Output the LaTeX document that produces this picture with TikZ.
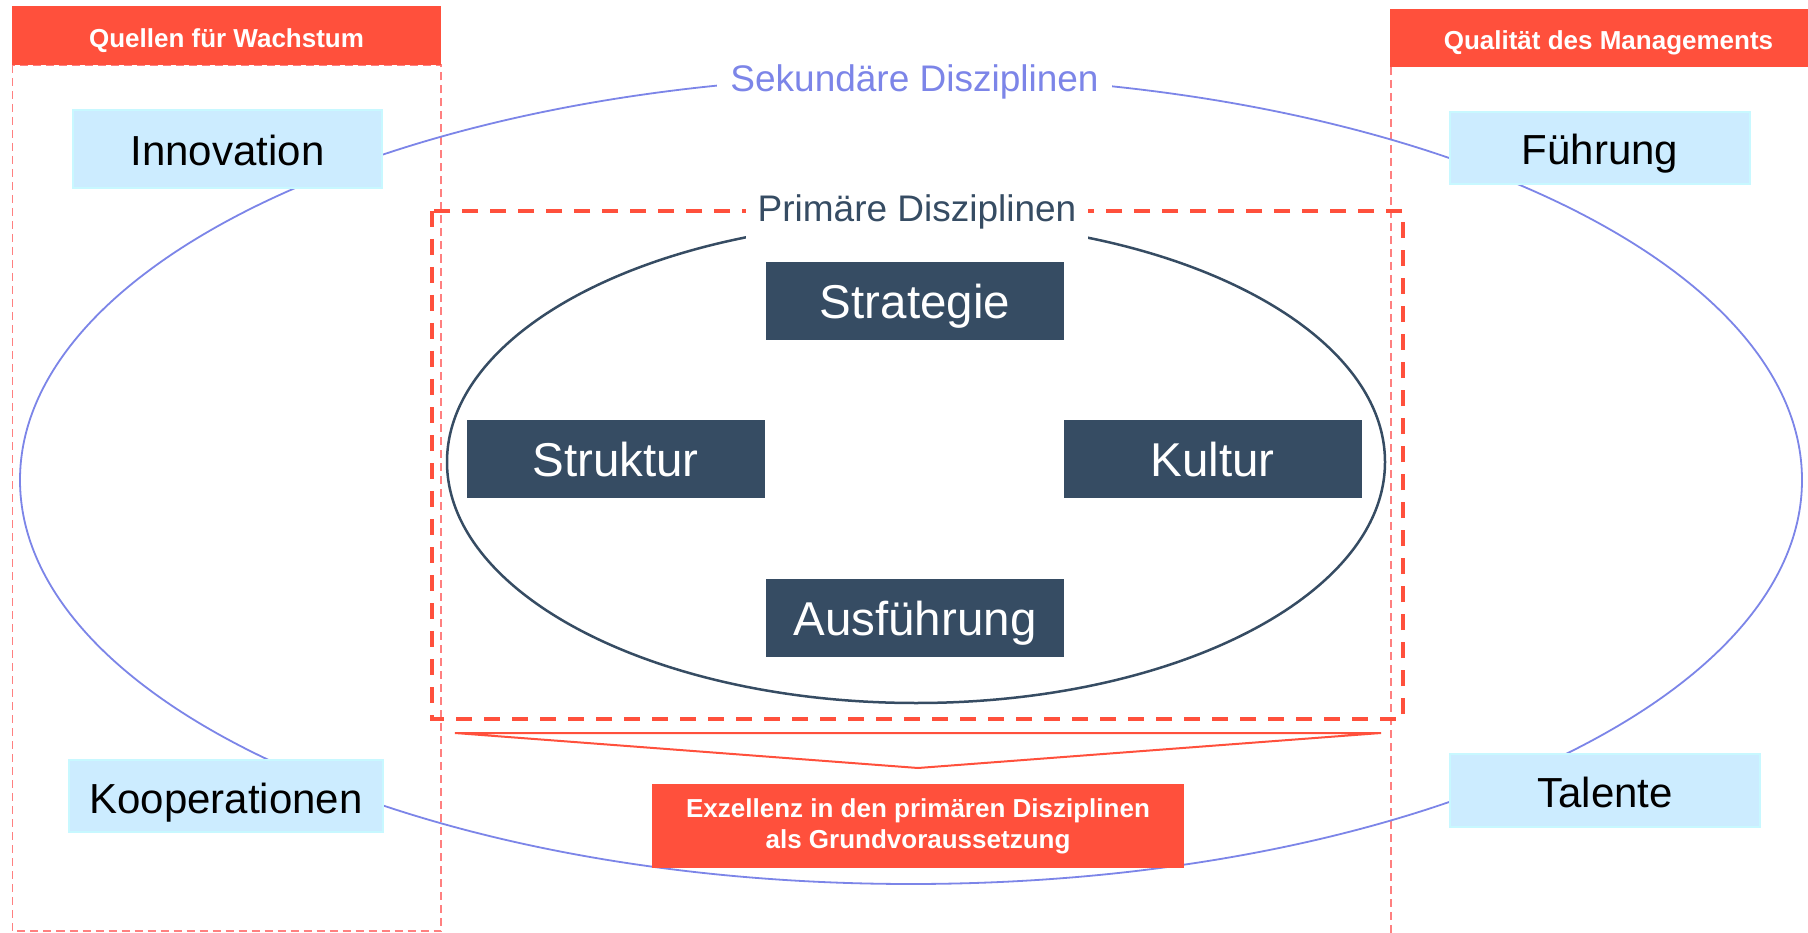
\documentclass[tikz,border=0pt]{standalone}
\usepackage{fontspec}
\setmainfont{Liberation Sans}
\definecolor{redc}{RGB}{255,80,60}
\definecolor{lred}{RGB}{255,128,128}
\definecolor{lblue}{RGB}{204,236,255}
\definecolor{lcyan}{RGB}{200,248,255}
\definecolor{navy}{RGB}{54,76,99}
\definecolor{peri}{RGB}{124,133,232}
\begin{document}
\begin{tikzpicture}[x=1pt,y=-1pt,
  lightbox/.style={fill=lblue,draw=lcyan,line width=1.5pt,inner sep=0pt,
    font=\fontsize{42pt}{50pt}\selectfont,text height=34pt,text depth=0pt},
  darkbox/.style={fill=navy,text=white,inner sep=0pt,minimum width=298pt,minimum height=78pt,
    font=\fontsize{47.5pt}{57pt}\selectfont,text height=35pt,text depth=0pt},
  headbox/.style={fill=redc,text=white,inner sep=0pt,
    font=\bfseries\fontsize{26pt}{31pt}\selectfont,text height=24pt,text depth=0pt},
  colline/.style={draw=lred,line width=1.6pt,dash pattern=on 8pt off 5pt},
  seclabel/.style={fill=white,text=peri,anchor=base,inner xsep=13pt,inner ysep=4pt,
    font=\fontsize{37pt}{44pt}\selectfont},
  primlabel/.style={fill=white,text=navy,anchor=base,inner xsep=12pt,inner ysep=16pt,
    font=\fontsize{37pt}{44pt}\selectfont},
]
\useasboundingbox (0,0) rectangle (1808,933);
\fill[white] (0,0) rectangle (1808,933);

% column frames
\draw[colline] (12.5,65) rectangle (441,931);
\coordinate (rtop) at (1391,67);
\coordinate (rbot) at (1391,933);
\draw[colline] (rtop) -- (rbot);

% secondary ellipse
\draw[peri,line width=1.8pt] (911,480) ellipse [x radius=891pt, y radius=404pt];
% primary ellipse
\draw[navy,line width=2.5pt] (916,462) ellipse [x radius=469pt, y radius=241pt];
% primary dashed frame
\draw[redc,line width=4pt,dash pattern=on 16pt off 12pt] (432,211) rectangle (1403,719);

% labels
\node[seclabel] (sek) at (914.5,92) {Sekundäre Disziplinen};
\node[primlabel] (prim) at (917,222) {Primäre Disziplinen};

% primary boxes
\node[darkbox] (strategie) at (915,301) {Strategie};
\node[darkbox] (struktur) at (615.5,459) {Struktur};
\node[darkbox] (kultur) at (1212.5,459) {Kultur};
\node[darkbox] (ausf) at (915,618) {Ausführung};

% secondary boxes
\node[lightbox,minimum width=309pt,minimum height=78pt] (innov) at (227.5,149) {Innovation};
\node[lightbox,minimum width=300pt,minimum height=72pt] (fuehr) at (1600,148) {Führung};
\node[lightbox,minimum width=314pt,minimum height=72pt] (koop) at (226,796) {Kooperationen};
\node[lightbox,minimum width=310pt,minimum height=73pt] (talente) at (1605,790.5) {Talente};

% headers
\node[headbox,minimum width=429pt,minimum height=59pt] (hleft) at (226.5,35.5) {Quellen für Wachstum};
\node[headbox,minimum width=437pt,minimum height=58pt] (hright) at (1608.5,38) {Qualität des Managements};

% funnel triangle
\coordinate (tl) at (455,733);
\coordinate (tr) at (1381,733);
\coordinate (tb) at (918,768);
\draw[redc,line width=2pt,line join=miter] (tl) -- (tr) -- (tb) -- cycle;

% bottom box
\node[fill=redc,text=white,minimum width=532pt,minimum height=84pt,inner sep=0pt,align=center,
  font=\bfseries\fontsize{26pt}{31pt}\selectfont,yshift=-2pt] (exz) at (918,824)
  {Exzellenz in den primären Disziplinen\\als Grundvoraussetzung};
\end{tikzpicture}
\end{document}
